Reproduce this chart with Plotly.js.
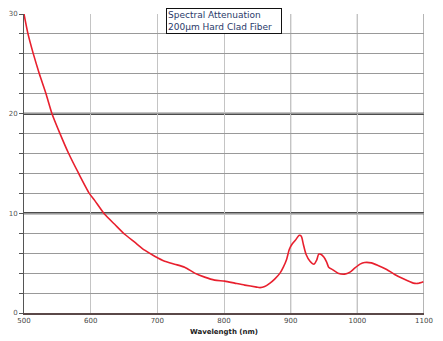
<!DOCTYPE html>
<html>
<head>
<meta charset="utf-8">
<script src="https://cdn.plot.ly/plotly-3.0.1.min.js"></script>
<style>html,body{margin:0;padding:0;background:#fff;}#chart{width:443px;height:341px;}</style>
</head>
<body>
<div id="chart"></div>
<script>
const wavelength = [500, 506, 514, 523, 533, 542, 554, 567, 582, 598, 606, 621, 636, 651, 666, 681, 696, 711, 726, 741, 756, 771, 786, 801, 816, 831, 849, 854, 861, 869, 876, 884, 889, 894, 898, 902, 907, 913, 916, 919, 923, 929, 935, 939, 942, 945, 950, 954, 957, 964, 971, 981, 989, 996, 1004, 1011, 1021, 1031, 1044, 1056, 1069, 1084, 1091, 1099];
const attenuation = [30, 28, 26, 24, 22, 20, 18, 16, 14, 12, 11.3, 9.9, 8.9, 7.9, 7.1, 6.3, 5.7, 5.2, 4.9, 4.6, 4.0, 3.6, 3.3, 3.2, 3.0, 2.8, 2.6, 2.55, 2.65, 3.0, 3.4, 4.0, 4.6, 5.4, 6.4, 6.9, 7.3, 7.8, 7.7, 6.9, 5.9, 5.2, 4.9, 5.3, 5.9, 5.9, 5.6, 5.1, 4.6, 4.3, 4.0, 3.9, 4.1, 4.5, 4.9, 5.07, 5.03, 4.77, 4.37, 3.87, 3.43, 3.0, 2.97, 3.13];
const xTicks = [500, 600, 700, 800, 900, 1000, 1100];
const yTicks = [0, 2, 4, 6, 8, 10, 12, 14, 16, 18, 20, 22, 24, 26, 28, 30];
const yLabels = ["0", "", "", "", "", "10", "", "", "", "", "20", "", "", "", "", "30"];
const majorY = [10, 20];
const darkX = [900, 1000, 1100];
const titleLines = ["Spectral Attenuation", "200µm Hard Clad Fiber"];

const shapes = [];
majorY.forEach(v => shapes.push({type:'line', xref:'paper', x0:0, x1:1, yref:'y', y0:v, y1:v, line:{color:'#111', width:2}, layer:'below'}));
darkX.forEach(v => shapes.push({type:'line', xref:'x', x0:v, x1:v, yref:'paper', y0:0, y1:1, line:{color:'#6a6a6a', width:1}, layer:'below'}));

const trace = {
  x: wavelength, y: attenuation, type:'scatter', mode:'lines',
  line:{color:'#e8202e', width:1.6, shape:'spline', smoothing:0.6},
  hoverinfo:'skip'
};

const layout = {
  width:443, height:341,
  margin:{l:24, r:19, t:14, b:28},
  paper_bgcolor:'#fff', plot_bgcolor:'#fff',
  showlegend:false,
  font:{family:'DejaVu Sans, Verdana, sans-serif', color:'#444', size:7},
  xaxis:{
    range:[500,1100], tickvals:xTicks, ticktext:xTicks.map(String),
    showgrid:true, gridcolor:'#c4c4c4', gridwidth:1,
    showline:true, linecolor:'#5a4848', linewidth:1.5,
    ticks:'', zeroline:false, tickfont:{size:7, color:'#444'},
    title:{text:'<b>Wavelength (nm)</b>', font:{size:7, color:'#222'}, standoff:5},
    fixedrange:true
  },
  yaxis:{
    range:[0,30], tickvals:yTicks, ticktext:yLabels,
    showgrid:true, gridcolor:'#999', gridwidth:1,
    showline:true, linecolor:'#555', linewidth:1,
    ticks:'outside', ticklen:4, tickcolor:'#555', tickwidth:1,
    zeroline:false, tickfont:{size:7, color:'#555'},
    fixedrange:true
  },
  shapes: shapes,
  annotations:[{
    xref:'paper', yref:'paper', x:(166-24)/400, y:1+(14-8)/299,
    xanchor:'left', yanchor:'top', align:'left',
    width:112, height:22,
    text: titleLines.join('<br>'), showarrow:false,
    font:{size:9, color:'#2a3a6a', family:'DejaVu Sans, Verdana, sans-serif'},
    bgcolor:'#fff', bordercolor:'#111', borderwidth:1, borderpad:1
  }]
};

Plotly.newPlot('chart', [trace], layout, {staticPlot:true, displayModeBar:false});
</script>
</body>
</html>
